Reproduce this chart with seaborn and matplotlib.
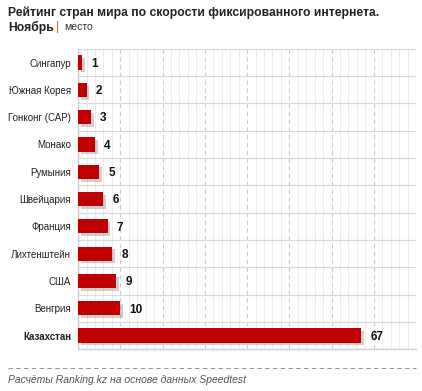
import pandas as pd
import matplotlib.pyplot as plt
import matplotlib.patheffects as pe
from matplotlib.ticker import MultipleLocator
import seaborn as sns

countries = ['Сингапур', 'Южная Корея', 'Гонконг (САР)', 'Монако', 'Румыния',
             'Швейцария', 'Франция', 'Лихтенштейн', 'США', 'Венгрия', 'Казахстан']
places = [1, 2, 3, 4, 5, 6, 7, 8, 9, 10, 67]

df = pd.DataFrame({'country': countries, 'place': places})

sns.set_theme(style="white")
plt.rcParams['font.family'] = ['Liberation Sans', 'DejaVu Sans']

fig = plt.figure(figsize=(4.22, 3.91), dpi=100)
ax = fig.add_axes([0.185, 0.107, 0.801, 0.768])

sns.barplot(data=df, y='country', x='place', color='#c00000', width=0.52,
            saturation=1, linewidth=0, ax=ax, zorder=3)

# тень под столбиками
for p in ax.patches:
    p.set_path_effects([pe.SimplePatchShadow(offset=(2, -2), shadow_rgbFace='#777777', alpha=0.35),
                        pe.Normal()])

ax.set_xlim(0, 80)
ax.set_ylim(len(countries) - 0.5, -0.5)
ax.xaxis.set_major_locator(MultipleLocator(10))
ax.xaxis.set_minor_locator(MultipleLocator(2))
ax.set_yticks([i + 0.5 for i in range(-1, len(countries))], minor=True)
ax.grid(which='major', axis='x', color='#cccccc', linestyle=(0, (4, 3)), linewidth=0.8, zorder=0)
ax.grid(which='minor', axis='x', color='#ececec', linestyle='-', linewidth=0.7, zorder=0)
ax.grid(which='minor', axis='y', color='#d9d9d9', linestyle='-', linewidth=0.9, zorder=0)
ax.tick_params(axis='x', which='both', length=0, labelbottom=False)
ax.tick_params(axis='y', which='both', length=0, labelsize=7, labelcolor='#222222', pad=5)
ax.set_xlabel('')
ax.set_ylabel('')
for s in ['top', 'right']:
    ax.spines[s].set_visible(False)
for s in ['left', 'bottom']:
    ax.spines[s].set_color('#d0d0d0')
    ax.spines[s].set_linewidth(1)

for lbl in ax.get_yticklabels():
    if lbl.get_text() == 'Казахстан':
        lbl.set_fontweight('bold')

for i, v in enumerate(places):
    ax.text(v + 2.2, i + 0.05, str(v), va='center', ha='left', fontsize=8.5,
            fontweight='bold', color='#111111', zorder=4)

# заголовок
fig.text(0.019, 0.968, 'Рейтинг стран мира по скорости фиксированного интернета.',
         fontsize=8.7, fontweight='bold', color='#222222', va='center')
fig.text(0.019, 0.93, 'Ноябрь', fontsize=8.7, fontweight='bold', color='#222222', va='center')
fig.text(0.132, 0.93, '|', fontsize=9, color='#e05a00', va='center')
fig.text(0.152, 0.93, 'место', fontsize=7.5, color='#333333', va='center')

# подвал
fig.add_artist(plt.Line2D([0.019, 0.985], [0.059, 0.059], color='#999999',
                          linewidth=0.8, linestyle=(0, (4, 3))))
fig.text(0.019, 0.028, 'Расчёты Ranking.kz на основе данных Speedtest',
         fontsize=7.5, style='italic', color='#555555', va='center')

plt.savefig('out.png', dpi=100)
plt.close()
